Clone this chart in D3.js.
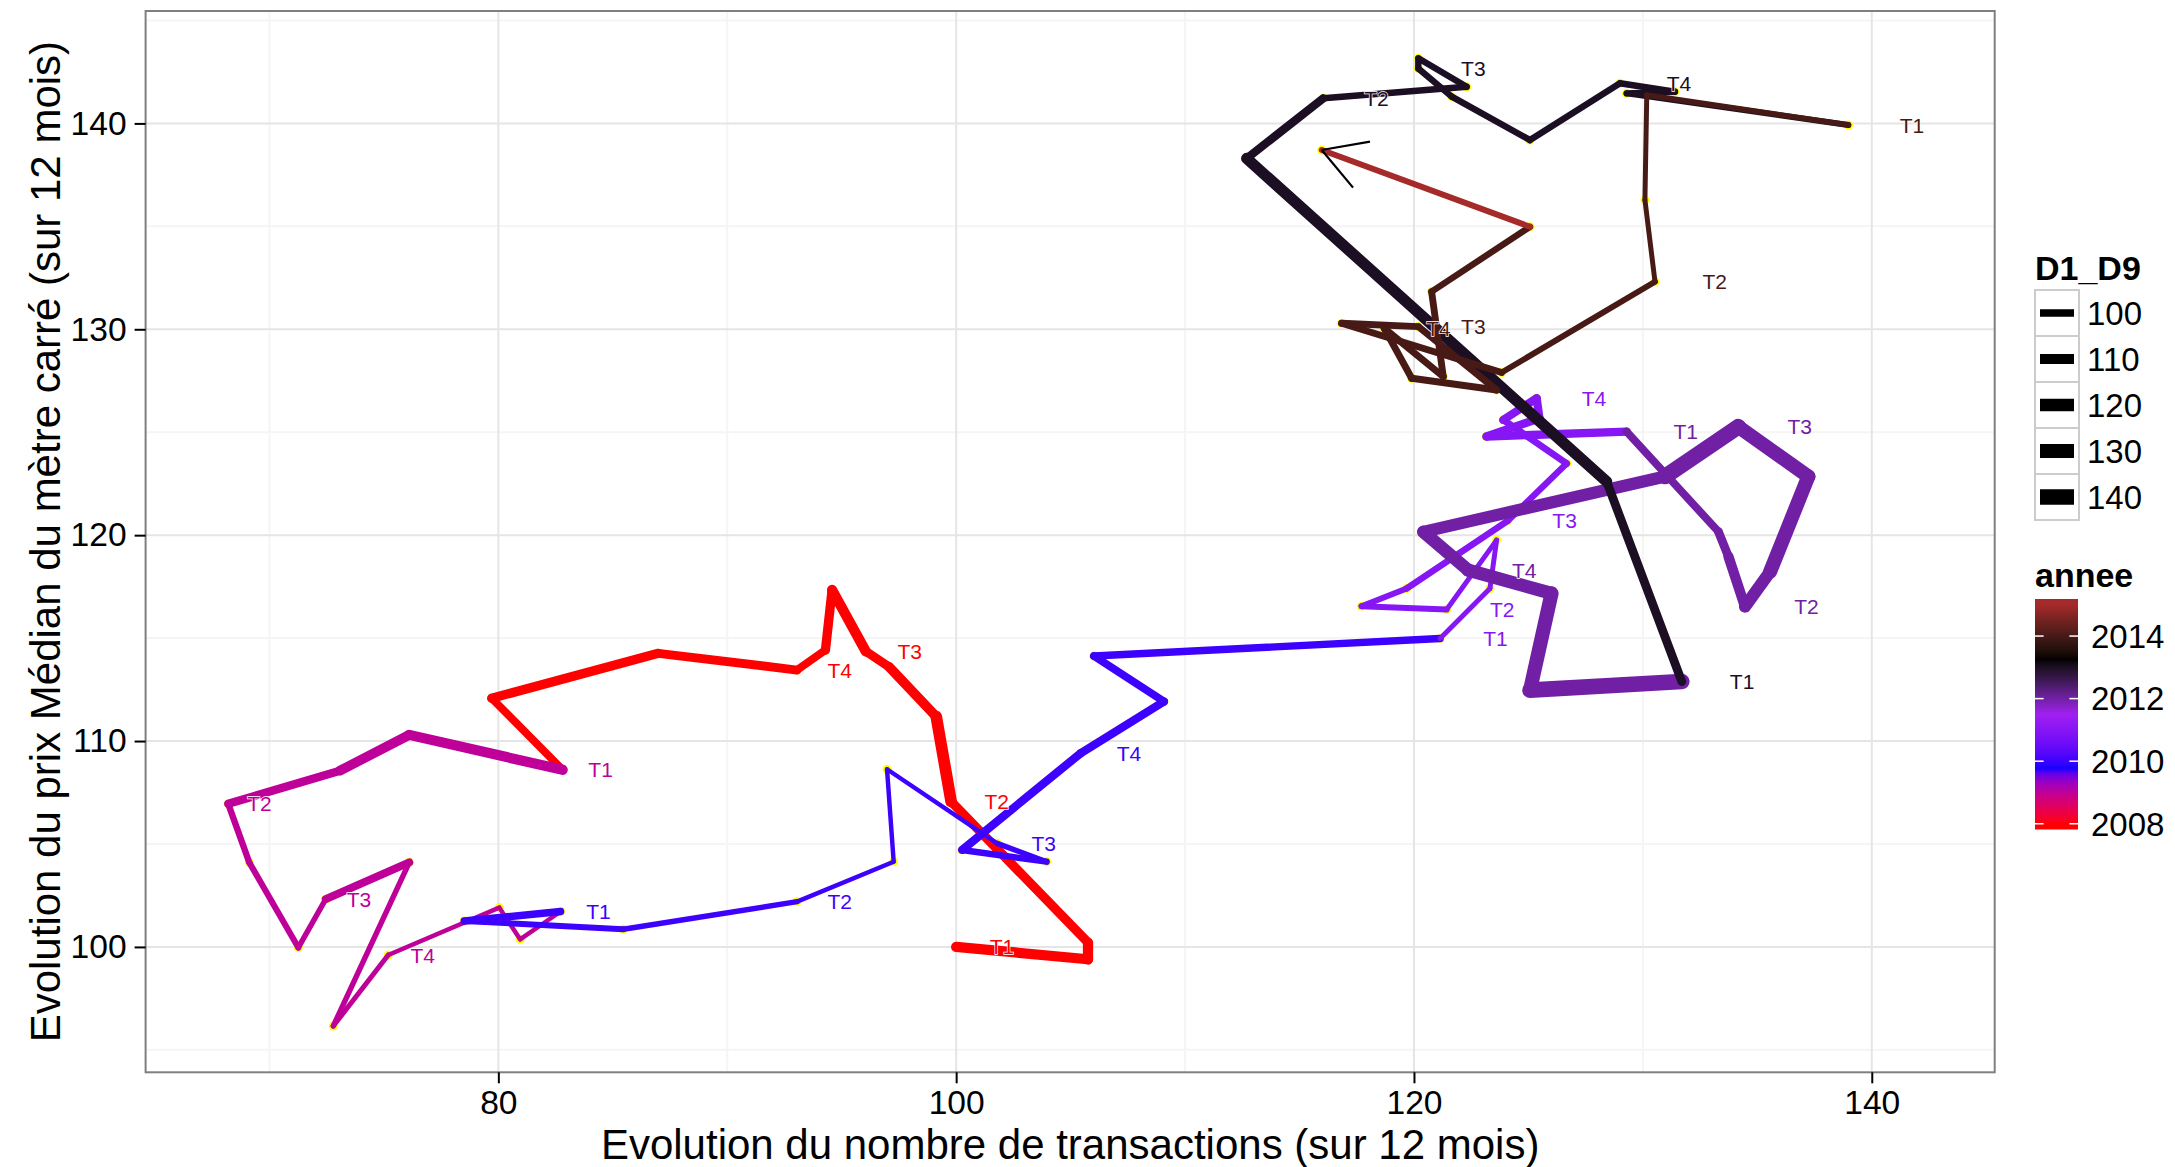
<!DOCTYPE html>
<html><head><meta charset="utf-8">
<script src="https://cdn.jsdelivr.net/npm/d3@7"></script>
<style>body{margin:0;background:#fff} text{font-family:"Liberation Sans",Arial,sans-serif}</style>
</head><body><svg id="c" width="2175" height="1167"></svg>
<script>
// ---- data (monthly points) ----
const nbTransactions = [
 100.00,105.76,105.76,99.78,99.13,97.06,96.05,94.58,94.29,93.05,86.99,79.71,
 82.81,76.11,73.08,68.20,69.12,71.26,72.46,76.11,72.79,75.19,80.04,80.95,
 82.72,78.51,85.46,93.05,97.27,96.98,101.79,103.95,100.26,105.44,109.08,106.02,
 121.14,123.32,123.61,121.43,117.71,119.68,124.10,126.67,123.90,125.36,125.48,123.17,
 129.29,133.30,133.74,134.46,135.56,137.23,134.17,130.97,120.41,122.37,126.01,125.07,
 131.70,128.42,112.69,116.04,122.30,120.19,120.19,121.65,125.07,129.00,131.40,129.29,
 138.98,130.17,130.09,130.53,123.83,116.84,120.19,123.61,119.90,118.70,121.28,120.77,
 125.07,115.97];
const prixMedian = [
 100.00,99.40,100.21,107.06,111.19,113.61,114.36,117.34,114.42,113.45,114.26,112.08,
 108.60,110.30,108.56,106.95,104.10,99.97,102.32,104.11,96.16,99.61,101.91,100.37,
 101.72,101.26,100.86,102.20,104.14,108.63,105.03,104.14,104.71,109.41,111.92,114.13,
 114.98,117.41,119.76,116.39,116.55,117.41,120.70,123.48,125.60,126.65,125.68,124.79,
 125.03,120.17,118.96,116.53,118.23,122.85,125.27,122.85,120.16,118.30,117.17,112.47,
 112.89,122.60,138.30,141.22,141.78,143.16,142.67,141.30,139.19,141.95,141.54,141.46,
 139.92,141.38,136.28,132.31,127.90,130.29,130.13,127.05,127.62,130.05,127.70,131.83,
 134.98,138.71];
const annee = [].concat(
 Array(12).fill(2008),Array(12).fill(2009),Array(12).fill(2010),Array(12).fill(2011),
 Array(12).fill(2012),Array(12).fill(2013),Array(12).fill(2014),Array(2).fill(2015));
const D1_D9 = [
 110.3,110.3,106.5,116.9,108.3,104.7,110.3,106.5,101.6,104.7,106.5,101.6,
 110.3,108.3,103.1,97.7,97.0,95.6,101.6,95.6,94.8,94.0,94.0,94.0,
 100.2,96.6,95.6,94.0,94.0,94.0,95.6,97.7,103.1,103.1,101.6,100.2,
 94.8,94.8,94.8,96.6,96.6,97.7,97.7,98.9,103.1,103.1,103.1,103.1,
 101.6,104.7,110.3,119.4,130.3,130.3,140.5,119.4,121.9,124.6,130.3,140.5,
 104.7,114.6,103.1,97.7,97.7,97.7,97.7,97.7,97.7,97.7,97.7,96.6,
 95.6,94.8,94.8,96.6,98.9,98.9,98.9,98.9,98.9,98.9,98.9,97.7,
 96.6,96.6];
const trimestreNoms = ["T1","","","T2","","","T3","","","T4","",""];
const trimestre = nbTransactions.map((d,i)=> i<84 ? trimestreNoms[i%12] : "");
const xTicks = [80,100,120,140];
const yTicks = [100,110,120,130,140];
const sizeBreaks = [100,110,120,130,140];
const anneeBreaks = [2008,2010,2012,2014];
// R colour names: red, blue, purple (#A020F0), black, brown
const anneeColours = ["#FF0000","#0000FF","#A020F0","#000000","#A52A2A"];

// ---- Lab (D65) interpolation, as R's colorRamp does ----
const lin = c => {c/=255; return c<=0.04045?c/12.92:Math.pow((c+0.055)/1.055,2.4);};
const gam = v => {v=Math.max(0,Math.min(1,v)); return 255*(v<=0.0031308?12.92*v:1.055*Math.pow(v,1/2.4)-0.055);};
const f = t => t>0.008856?Math.cbrt(t):7.787*t+16/116;
const fi = t => t>0.206893?t*t*t:(t-16/116)/7.787;
function toLab(col){const c=d3.rgb(col),r=lin(c.r),g=lin(c.g),b=lin(c.b);
  const X=(0.4124*r+0.3576*g+0.1805*b)/0.95047,Y=0.2126*r+0.7152*g+0.0722*b,Z=(0.0193*r+0.1192*g+0.9505*b)/1.08883;
  return [116*f(Y)-16,500*(f(X)-f(Y)),200*(f(Y)-f(Z))];}
function fromLab([L,a,bb]){const fy=(L+16)/116,fx=fy+a/500,fz=fy-bb/200;
  const X=fi(fx)*0.95047,Y=fi(fy),Z=fi(fz)*1.08883;
  const r=3.2406*X-1.5372*Y-0.4986*Z,g=-0.9689*X+1.8758*Y+0.0415*Z,b=0.0557*X-0.2040*Y+1.0570*Z;
  return d3.rgb(gam(r),gam(g),gam(b)).formatHex();}
const labInterp = (A,B) => {const a=toLab(A),b=toLab(B); return t=>fromLab(a.map((v,i)=>v+(b[i]-v)*t));};

// ---- layout ----
const svg = d3.select("#c");
const P = {l:145.6, r:1994.7, t:11, b:1072.3};
const x = d3.scaleLinear().domain([64.59,145.37]).range([P.l,P.r]);
const y = d3.scaleLinear().domain([93.91,145.46]).range([P.b,P.t]);
const colour = d3.scaleLinear().domain([2008,2009.75,2011.5,2013.25,2015]).range(anneeColours)
   .interpolate(labInterp).clamp(true);
const sizeDom=[92,145], sizeRange=[1.6,16.3];
const size = v => sizeRange[0] + (sizeRange[1]-sizeRange[0])*Math.sqrt(Math.max(0,(v-sizeDom[0])/(sizeDom[1]-sizeDom[0])));

// panel
svg.append("rect").attr("x",P.l).attr("y",P.t).attr("width",P.r-P.l).attr("height",P.b-P.t).attr("fill","#fff");
const g = svg.append("g");
const xMinor=[70,90,110,130], yMinor=[95,105,115,125,135,145];
g.selectAll(".xm").data(xMinor).join("line").attr("x1",d=>x(d)).attr("x2",d=>x(d)).attr("y1",P.t).attr("y2",P.b).attr("stroke","#F5F5F5").attr("stroke-width",2);
g.selectAll(".ym").data(yMinor).join("line").attr("y1",d=>y(d)).attr("y2",d=>y(d)).attr("x1",P.l).attr("x2",P.r).attr("stroke","#F5F5F5").attr("stroke-width",2);
g.selectAll(".xM").data(xTicks).join("line").attr("x1",d=>x(d)).attr("x2",d=>x(d)).attr("y1",P.t).attr("y2",P.b).attr("stroke","#E5E5E5").attr("stroke-width",2);
g.selectAll(".yM").data(yTicks).join("line").attr("y1",d=>y(d)).attr("y2",d=>y(d)).attr("x1",P.l).attr("x2",P.r).attr("stroke","#E5E5E5").attr("stroke-width",2);

const pts = nbTransactions.map((d,i)=>({x:d,y:prixMedian[i],a:annee[i],s:D1_D9[i],t:trimestre[i]}));
svg.append("g").selectAll("circle").data(pts).join("circle")
  .attr("cx",d=>x(d.x)).attr("cy",d=>y(d.y)).attr("r",4.5).attr("fill","#FFFF00");
const segs = pts.slice(0,-1).map((d,i)=>({a:d,b:pts[i+1]}));
svg.append("g").selectAll("line").data(segs).join("line")
  .attr("x1",d=>x(d.a.x)).attr("y1",d=>y(d.a.y)).attr("x2",d=>x(d.b.x)).attr("y2",d=>y(d.b.y))
  .attr("stroke",d=>colour(d.a.a)).attr("stroke-width",d=>size(d.a.s)).attr("stroke-linecap","round");
svg.append("g").selectAll("text").data(pts.filter(d=>d.t)).join("text")
  .attr("x",d=>x(d.x*1.02)).attr("y",d=>y(d.y)).attr("dy","0.36em").attr("text-anchor","middle")
  .attr("font-size",21).attr("fill",d=>colour(d.a))
  .attr("stroke","#fff").attr("stroke-width",1.3).attr("paint-order","stroke").text(d=>d.t);
{
  const n=pts.length, p1=pts[n-1], p0=pts[n-2];
  const X1=x(p1.x),Y1=y(p1.y),ang=Math.atan2(y(p0.y)-Y1,x(p0.x)-X1), L=49;
  [-Math.PI/6,Math.PI/6].forEach(o=>{
    svg.append("line").attr("x1",X1).attr("y1",Y1).attr("x2",X1+L*Math.cos(ang+o)).attr("y2",Y1+L*Math.sin(ang+o))
      .attr("stroke","#000").attr("stroke-width",2.2);
  });
}
svg.append("rect").attr("x",P.l).attr("y",P.t).attr("width",P.r-P.l).attr("height",P.b-P.t).attr("fill","none").attr("stroke","#7F7F7F").attr("stroke-width",2);

// axes
const xa = svg.append("g").attr("transform",`translate(0,${P.b})`).call(d3.axisBottom(x).tickValues(xTicks).tickSize(11).tickPadding(6.5));
const ya = svg.append("g").attr("transform",`translate(${P.l},0)`).call(d3.axisLeft(y).tickValues(yTicks).tickSize(11).tickPadding(8));
[xa,ya].forEach(a=>{a.select(".domain").remove(); a.selectAll("line").attr("stroke","#000").attr("stroke-width",2);
  a.selectAll("text").attr("font-size",33.6).attr("fill","#000").attr("font-family",'"Liberation Sans",Arial,sans-serif');});
svg.append("text").attr("x",(P.l+P.r)/2).attr("y",1159).attr("text-anchor","middle").attr("font-size",42)
  .text("Evolution du nombre de transactions (sur 12 mois)");
svg.append("text").attr("transform",`translate(60,${(P.t+P.b)/2}) rotate(-90)`).attr("text-anchor","middle").attr("font-size",42)
  .text("Evolution du prix Médian du mètre carré (sur 12 mois)");

// legend: size
const LX=2035;
svg.append("text").attr("x",LX).attr("y",280).attr("font-size",34).attr("font-weight","bold").text("D1_D9");
const kw=44,kh=46,k0=290;
const lg = svg.append("g").selectAll("g").data(sizeBreaks).join("g").attr("transform",(d,i)=>`translate(${LX},${k0+i*kh})`);
lg.append("rect").attr("width",kw).attr("height",kh).attr("fill","#fff").attr("stroke","#CCCCCC").attr("stroke-width",2);
lg.append("line").attr("x1",5).attr("x2",kw-5).attr("y1",kh/2).attr("y2",kh/2).attr("stroke","#000").attr("stroke-width",d=>size(d));
lg.append("text").attr("x",kw+8).attr("y",kh/2).attr("dy","0.36em").attr("font-size",33).text(d=>d);

// legend: colour bar
svg.append("text").attr("x",LX).attr("y",587).attr("font-size",34).attr("font-weight","bold").text("annee");
const cbT=599, cbH=230.5, cbW=43;
const cbY = v => cbT+cbH - (0.025 + (v-2008)/7*0.95)*cbH;
const grad = svg.append("defs").append("linearGradient").attr("id","gr").attr("x1",0).attr("y1",0).attr("x2",0).attr("y2",1);
d3.range(0,101).forEach(k=>{
  const off=k/100, yy=cbT+off*cbH, v=2008+((cbT+cbH-yy)/cbH-0.025)/0.95*7;
  grad.append("stop").attr("offset",off).attr("stop-color",colour(v));
});
svg.append("rect").attr("x",LX).attr("y",cbT).attr("width",cbW).attr("height",cbH).attr("fill","url(#gr)");
anneeBreaks.forEach(v=>{
  const yy=cbY(v);
  svg.append("line").attr("x1",LX).attr("x2",LX+cbW/5).attr("y1",yy).attr("y2",yy).attr("stroke","#fff").attr("stroke-width",1.5);
  svg.append("line").attr("x1",LX+cbW*4/5).attr("x2",LX+cbW).attr("y1",yy).attr("y2",yy).attr("stroke","#fff").attr("stroke-width",1.5);
  svg.append("text").attr("x",LX+cbW+13).attr("y",yy).attr("dy","0.36em").attr("font-size",33).text(v);
});
</script></body></html>
